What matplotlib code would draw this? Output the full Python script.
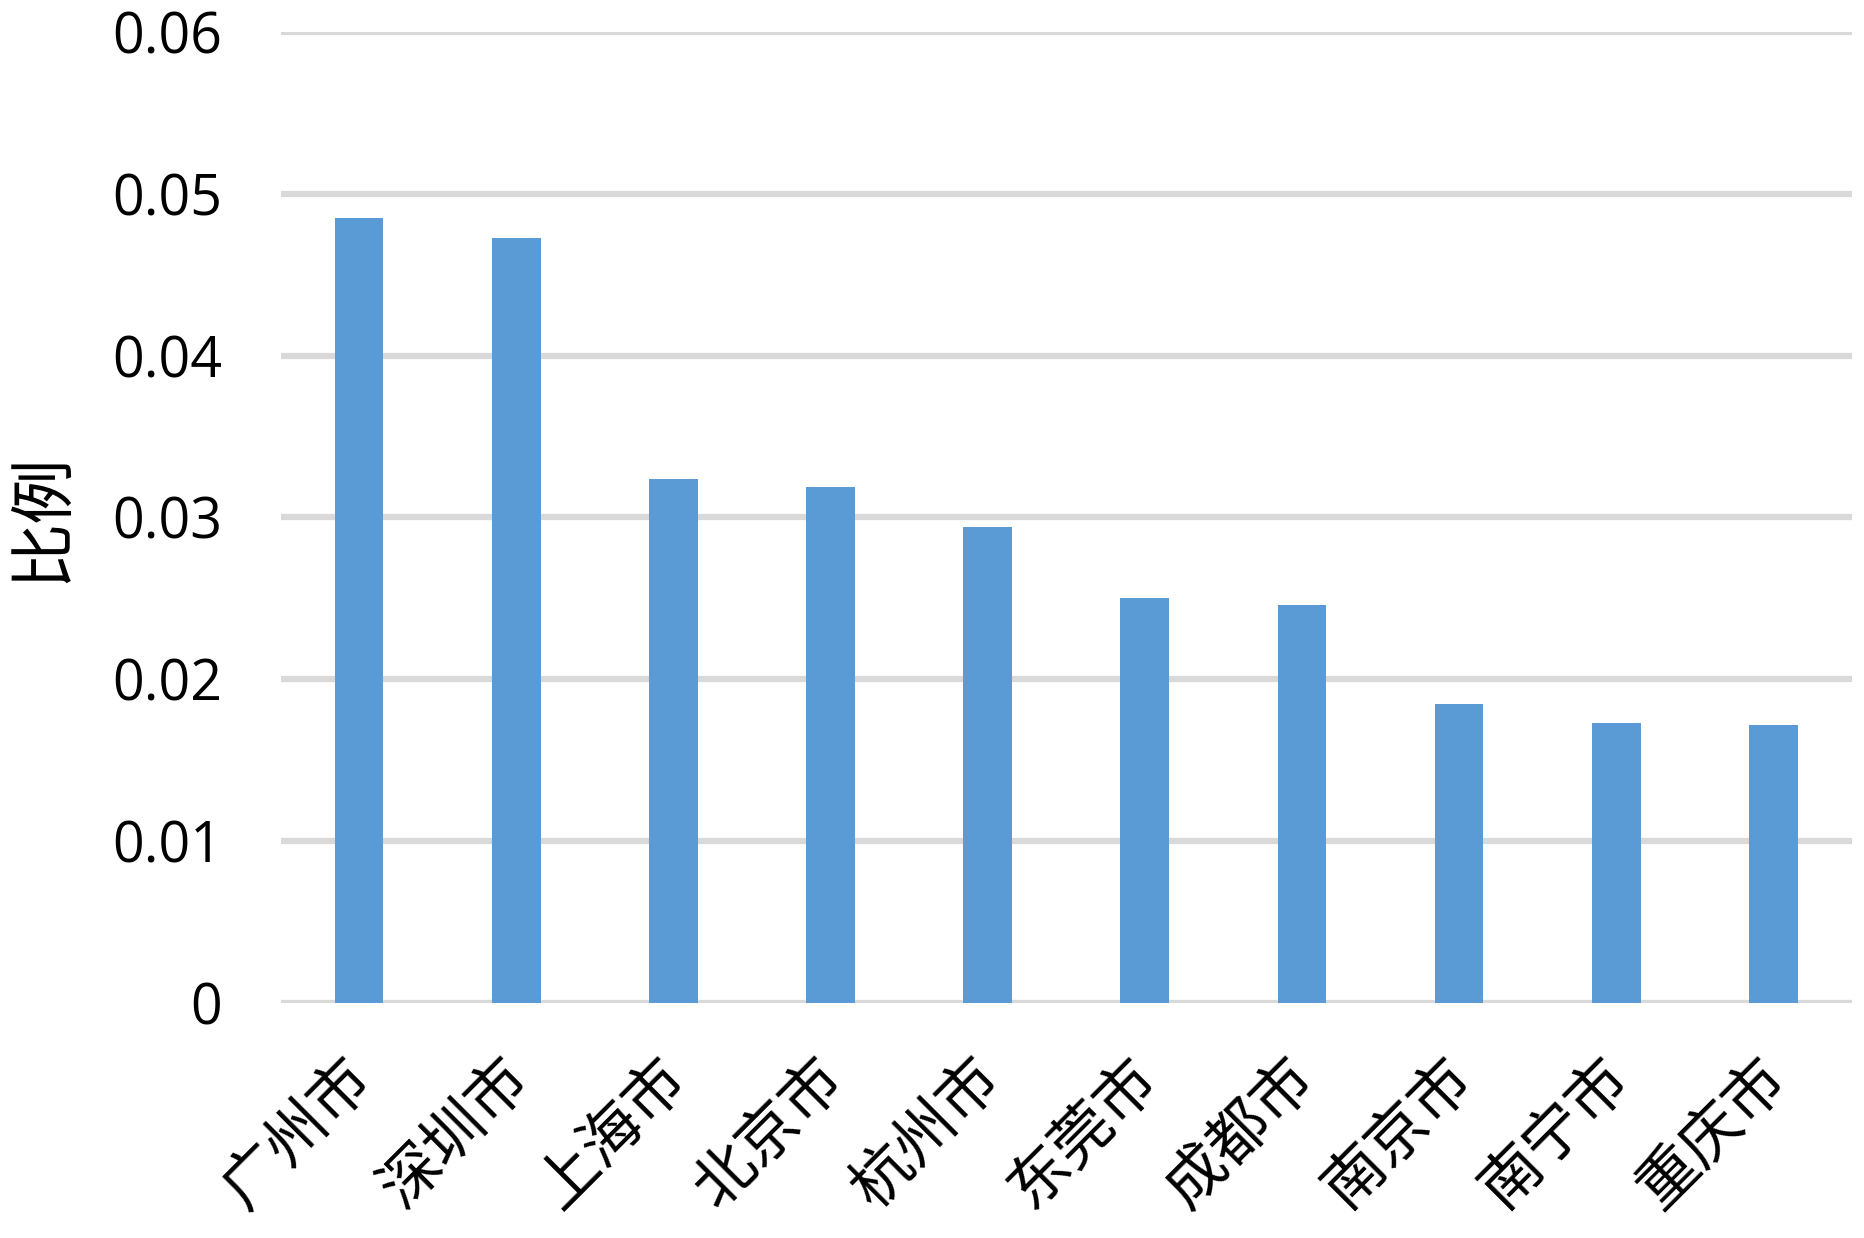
import matplotlib
matplotlib.use('Agg')
import matplotlib.pyplot as plt
import matplotlib.transforms as mtransforms

plt.rcParams['font.family'] = ['Noto Sans CJK SC', 'DejaVu Sans']

# data
cities = ['广州市', '深圳市', '上海市', '北京市', '杭州市', '东莞市', '成都市', '南京市', '南宁市', '重庆市']
ratios = [0.0485, 0.0473, 0.0324, 0.0319, 0.0294, 0.0250, 0.0246, 0.0185, 0.0173, 0.0172]
yticks = [0, 0.01, 0.02, 0.03, 0.04, 0.05, 0.06]
ytick_labels = ['0', '0.01', '0.02', '0.03', '0.04', '0.05', '0.06']

fig = plt.figure(figsize=(18.64, 12.38), dpi=100)
ax = fig.add_axes([0.1505, 0.190, 0.843, 0.784])

ax.bar(range(len(cities)), ratios, width=0.31, color='#5B9BD5', zorder=2)

ax.set_xlim(-0.5, len(cities) - 0.5)
ax.set_ylim(0, 0.06)
ax.set_yticks(yticks)
ax.set_yticklabels(ytick_labels, fontfamily='Open Sans', fontsize=40)
ax.set_xticks(range(len(cities)))
ax.set_xticklabels([])

# rotated city labels, placed by hand so they can be nudged
offset = mtransforms.ScaledTranslation(-18 / 100, -44 / 100, fig.dpi_scale_trans)
for i, city in enumerate(cities):
    ax.text(i, 0, city, transform=ax.get_xaxis_transform() + offset,
            rotation=45, ha='right', va='top', rotation_mode='anchor', fontsize=44)

ax.yaxis.grid(True, color='#d9d9d9', linewidth=4.5, zorder=1)
ax.set_axisbelow(True)
ax.tick_params(axis='both', length=0)
ax.tick_params(axis='y', pad=42)
for s in ax.spines.values():
    s.set_visible(False)

ax.set_ylabel('比例', fontsize=47)
ax.yaxis.set_label_coords(-0.13, 0.5)

fig.savefig('out.png', dpi=100)
